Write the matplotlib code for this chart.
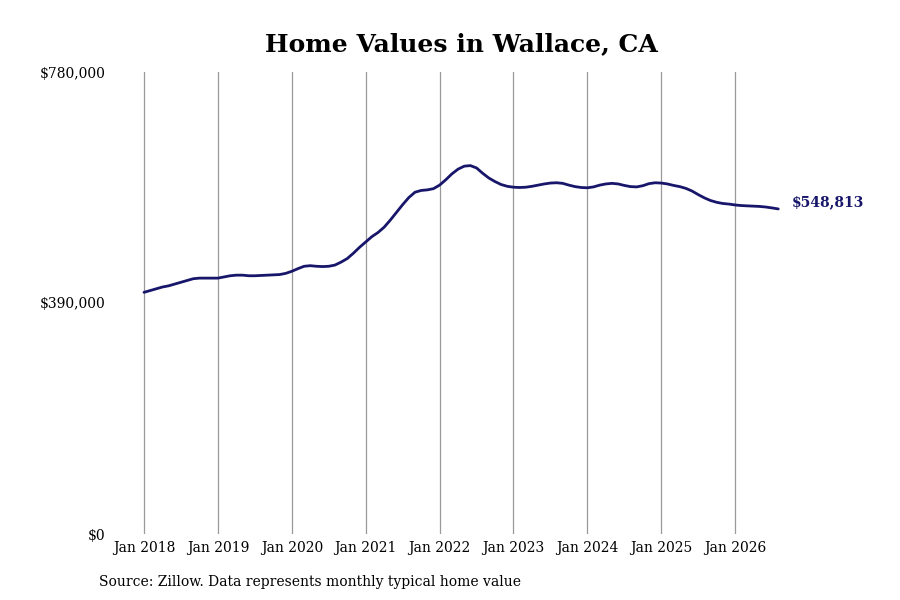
import matplotlib
matplotlib.use("Agg")
import matplotlib.pyplot as plt

plt.rcParams['font.family'] = ['DejaVu Serif']

title = "Home Values in Wallace, CA"
source = "Source: Zillow. Data represents monthly typical home value"
years = [2018, 2019, 2020, 2021, 2022, 2023, 2024, 2025, 2026]
tick_labels = [f"Jan {y}" for y in years]
y_ticks = [0, 390000, 780000]
y_tick_labels = ["$0", "$390,000", "$780,000"]

# Monthly typical home value (thousands of $), Jan 2018 - Aug 2026
v2018 = [408, 411, 414, 417, 419, 422, 425, 428, 431, 432, 432, 432]
v2019 = [432, 434, 436, 437, 437, 436, 436, 436.5, 437, 437.5, 438, 440]
v2020 = [443.5, 448, 452, 453, 452, 451.5, 452, 454, 459, 465, 474, 484]
v2021 = [493, 502, 509, 518, 530, 543, 556, 568, 577, 580, 581, 583]
v2022 = [589, 598, 608, 616, 621, 622, 618, 609, 601, 595, 590, 587]
v2023 = [585.5, 585, 585.5, 587, 589, 591, 592.5, 593, 592, 589, 586.5, 585]
v2024 = [584.5, 586, 589, 591, 592, 591, 588.5, 586.5, 586, 588, 591.5, 593]
v2025 = [592.5, 591, 588.5, 586.5, 583.5, 579, 573, 567.5, 563, 560, 558, 557]
v2026 = [555.5, 554.5, 554, 553.5, 553, 552, 550.5, 548.813]

values = [v * 1000 for v in (v2018 + v2019 + v2020 + v2021 + v2022 + v2023 + v2024 + v2025 + v2026)]
months = list(range(len(values)))
last_label = "$548,813"

line_color = "#18166a"

fig = plt.figure(figsize=(9, 6), dpi=100)
ax = fig.add_axes([110/900, 66/600, 740/900, 462/600])

ax.plot(months, values, color=line_color, lw=2.0, solid_capstyle='round')

ax.set_ylim(0, 780000)
ax.set_xlim(-34/6.158, 740/6.158 - 34/6.158)

ax.set_xticks([12 * i for i in range(len(years))])
ax.set_xticklabels(tick_labels, fontsize=10)
ax.set_yticks(y_ticks)
ax.set_yticklabels(y_tick_labels, fontsize=10)
ax.tick_params(axis='both', length=0)
ax.tick_params(axis='x', pad=5)
ax.tick_params(axis='y', pad=3)

for s in ax.spines.values():
    s.set_visible(False)
ax.grid(axis='x', color='#999999', lw=0.9)
ax.set_axisbelow(True)

ax.annotate(last_label, xy=(months[-1], values[-1]), xytext=(10, 5),
            textcoords='offset points', fontsize=10, fontweight='bold',
            color=line_color, va='center', ha='left')

fig.text(461/900, 1 - 44/600, title, fontsize=18, fontweight='bold',
         ha='center', va='center')
fig.text(99/900, 1 - 582/600, source, fontsize=10, ha='left', va='center')

fig.savefig("out.png", dpi=100)
